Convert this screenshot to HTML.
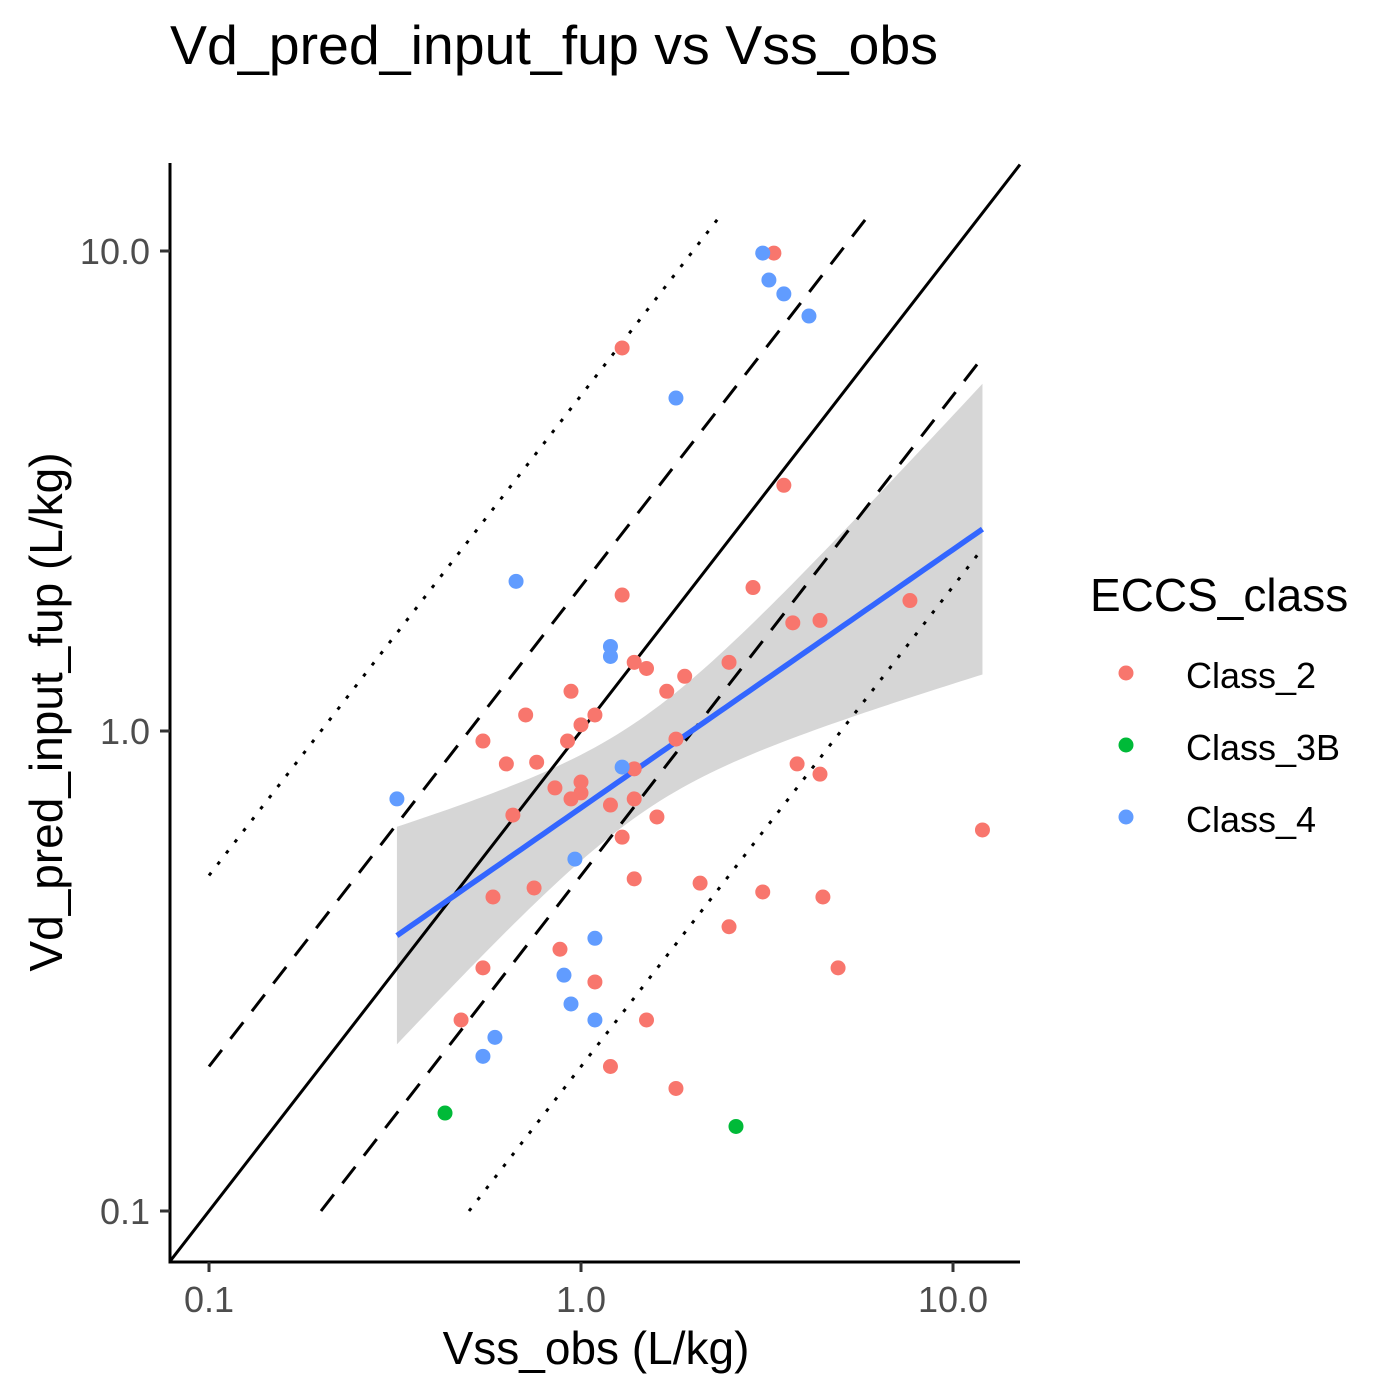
<!DOCTYPE html>
<html><head><meta charset="utf-8"><style>
body{margin:0;background:#fff}
svg{display:block;font-family:"Liberation Sans",Arial,sans-serif}
</style></head><body>
<svg id="chart" width="1395" height="1395" viewBox="0 0 1395 1395" xmlns="http://www.w3.org/2000/svg">
<rect width="1395" height="1395" fill="#fff"/>
<text x="170" y="64" font-size="55" fill="#000" textLength="768" lengthAdjust="spacingAndGlyphs">Vd_pred_input_fup vs Vss_obs</text>
<g id="ribbon"></g><g id="refs"></g><g id="fit"></g><g id="pts"></g><g id="axes"></g>
<text x="596" y="1364" font-size="46" text-anchor="middle" fill="#000">Vss_obs (L/kg)</text>
<text transform="translate(62,712) rotate(-90)" font-size="46" text-anchor="middle" fill="#000">Vd_pred_input_fup (L/kg)</text>
<g>
<text x="1090" y="611" font-size="46" fill="#000">ECCS_class</text>
<circle cx="1126" cy="673" r="7.5" fill="#F8766D"/>
<text x="1186" y="688" font-size="36">Class_2</text>
<circle cx="1126" cy="745" r="7.5" fill="#00BA38"/>
<text x="1186" y="760" font-size="36">Class_3B</text>
<circle cx="1126" cy="817" r="7.5" fill="#619CFF"/>
<text x="1186" y="832" font-size="36">Class_4</text>
</g>
</svg>
<script>
const c2x=[3.30,1.29,3.51,2.90,1.29,7.66,3.71,4.39,1.39,1.50,2.50,1.90,1.70,0.94,0.71,1.09,1.0,0.545,0.92,1.80,0.63,0.76,3.81,4.39,1.39,1.0,0.851,1.0,0.94,1.39,1.20,0.656,1.60,1.29,12.0,0.58,0.748,1.39,2.09,3.08,4.47,2.50,0.878,0.545,4.91,1.09,0.476,1.50,1.20,1.80];
const c2y=[9.9,6.28,3.25,1.99,1.92,1.87,1.68,1.70,1.39,1.35,1.39,1.30,1.21,1.21,1.08,1.08,1.03,0.953,0.953,0.962,0.854,0.861,0.854,0.813,0.834,0.783,0.761,0.743,0.722,0.722,0.701,0.668,0.662,0.601,0.622,0.451,0.471,0.492,0.482,0.462,0.451,0.391,0.351,0.321,0.321,0.300,0.250,0.250,0.200,0.180];
const c3x=[0.431,2.61];
const c3y=[0.160,0.150];
const c4x=[3.08,3.20,3.51,4.10,1.80,0.669,1.20,1.20,1.29,0.320,0.963,1.09,0.90,0.94,1.09,0.587,0.545];
const c4y=[9.9,8.70,8.14,7.32,4.94,2.05,1.50,1.43,0.841,0.722,0.541,0.370,0.310,0.270,0.250,0.230,0.210];
const xTicks=[0.1,1.0,10.0];
const yTicks=[0.1,1.0,10.0];
const xTickLabels=["0.1","1.0","10.0"];
const yTickLabels=["0.1","1.0","10.0"];
const NS="http://www.w3.org/2000/svg";
const L0=170,R0=1020,T0=163,B0=1262;
function sx(v){return 581+372*Math.log10(v);}
function sy(v){return 731-480*Math.log10(v);}
function mk(tag,attrs,parent){const e=document.createElementNS(NS,tag);for(const k in attrs)e.setAttribute(k,attrs[k]);document.getElementById(parent).appendChild(e);return e;}
const xmin=Math.pow(10,(L0-581)/372), xmax=Math.pow(10,(R0-581)/372);
function refLine(k,x1,x2,dash,name){
  const e=mk('line',{x1:sx(x1),y1:sy(k*x1),x2:sx(x2),y2:sy(k*x2),stroke:'#000','stroke-width':3,'stroke-dasharray':dash},'refs');
  
  
}
refLine(1,xmin,Math.min(xmax,Math.pow(10,(731-T0)/480)),'none','identity-line');
refLine(2,0.1,6,'21,14','upper-2fold-line');
refLine(0.5,0.2,12,'21,14','lower-2fold-line');
refLine(5,0.1,2.35,'3.5,10.5','upper-5fold-line');
refLine(0.2,0.5,12,'3.5,10.5','lower-5fold-line');
const ax=c2x.concat(c3x,c4x).map(Math.log10), ay=c2y.concat(c3y,c4y).map(Math.log10);
const n=ax.length, mx=ax.reduce((a,b)=>a+b)/n, my=ay.reduce((a,b)=>a+b)/n;
let sxx=0,sxy=0;for(let i=0;i<n;i++){sxx+=(ax[i]-mx)**2;sxy+=(ax[i]-mx)*(ay[i]-my);}
const b=sxy/sxx,a=my-b*mx;
let sse=0;for(let i=0;i<n;i++)sse+=(ay[i]-a-b*ax[i])**2;
const s=Math.sqrt(sse/(n-2)), t=1.995;
const lo=Math.min(...ax), hi=Math.max(...ax);
let up=[],dn=[],ln=[];
for(let j=0;j<=80;j++){const lx=lo+(hi-lo)*j/80, yh=a+b*lx, se=s*Math.sqrt(1/n+(lx-mx)**2/sxx);
  const px=581+372*lx;
  ln.push(px+','+(731-480*yh));up.push(px+','+(731-480*(yh+t*se)));dn.unshift(px+','+(731-480*(yh-t*se)));}
const rib=mk('polygon',{points:up.concat(dn).join(' '),fill:'#999','fill-opacity':0.4},'ribbon');


const fl=mk('polyline',{points:ln.join(' '),fill:'none',stroke:'#3366FF','stroke-width':5.5},'fit');


function pts(xs,ys,col,name){for(let i=0;i<xs.length;i++){const e=mk('circle',{cx:sx(xs[i]),cy:sy(ys[i]),r:7.5,fill:col},'pts');
  
  }}
pts(c2x,c2y,'#F8766D','point-class-2');
pts(c3x,c3y,'#00BA38','point-class-3b');
pts(c4x,c4y,'#619CFF','point-class-4');
const ya=mk('line',{x1:L0,y1:T0,x2:L0,y2:B0+1.5,stroke:'#000','stroke-width':3},'axes');


const xa=mk('line',{x1:L0-1.5,y1:B0,x2:R0,y2:B0,stroke:'#000','stroke-width':3},'axes');


xTicks.forEach((v,i)=>{const tk=mk('line',{x1:sx(v),y1:B0,x2:sx(v),y2:B0+10,stroke:'#333','stroke-width':3},'axes');
  
  
  const tl=mk('text',{x:sx(v),y:B0+50,'font-size':36,'text-anchor':'middle',fill:'#4d4d4d'},'axes');tl.textContent=xTickLabels[i];
  
  });
yTicks.forEach((v,i)=>{const tk=mk('line',{x1:L0-10,y1:sy(v),x2:L0,y2:sy(v),stroke:'#333','stroke-width':3},'axes');
  
  
  const tl=mk('text',{x:L0-20,y:sy(v)+13,'font-size':36,'text-anchor':'end',fill:'#4d4d4d'},'axes');tl.textContent=yTickLabels[i];
  
  });
</script>
</body></html>
